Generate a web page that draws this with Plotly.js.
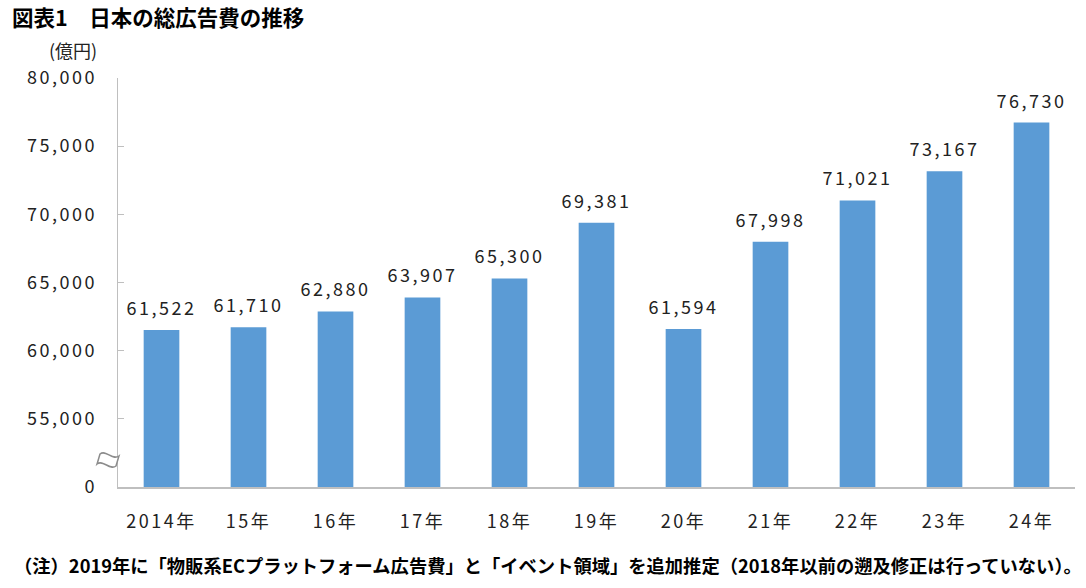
<!DOCTYPE html>
<html>
<head>
<meta charset="utf-8">
<script src="https://cdn.plot.ly/plotly-3.0.1.min.js"></script>
<style>
  html, body { margin: 0; padding: 0; background: #fff; }
  #chart { width: 1086px; height: 588px; }
  .xtick text, .ytick text { letter-spacing: 2.5px; }
</style>
</head>
<body>
<div id="chart"></div>
<script>
// 日本の総広告費の推移 - 棒グラフ

// データ
const years = ['2014年', '15年', '16年', '17年', '18年', '19年', '20年', '21年', '22年', '23年', '24年'];
const adSpend = [61522, 61710, 62880, 63907, 65300, 69381, 61594, 67998, 71021, 73167, 76730];

// 縦軸 (0 から 55,000 の間は省略)
const tickVals = [50000, 55000, 60000, 65000, 70000, 75000, 80000];
const tickText = ['0', '55,000', '60,000', '65,000', '70,000', '75,000', '80,000'];

const FONT = "'Noto Sans CJK JP', 'Noto Sans', sans-serif";
const TEXT_COLOR = '#222222';
const BAR_COLOR = '#5b9bd5';
const AXIS_COLOR = '#bfbfbf';

// プロット領域 (px)
const M = { t: 78, r: 11, b: 101, l: 118 };
const W = 1086, H = 588;
const PW = W - M.l - M.r, PH = H - M.t - M.b;
const px = x => ((x - M.l) / PW).toFixed(4);
const py = y => ((H - M.b - y) / PH).toFixed(4);

const trace = {
    x: years,
    y: adSpend,
    type: 'bar',
    marker: { color: BAR_COLOR },
    hoverinfo: 'x+y'
};

// 棒の上の数値ラベル
const valueLabels = years.map((yr, i) => ({
    x: yr,
    y: adSpend[i],
    xref: 'x',
    yref: 'y',
    text: adSpend[i].toLocaleString('en-US'),
    showarrow: false,
    yanchor: 'bottom',
    yshift: 8,
    font: { family: FONT, size: 18, color: TEXT_COLOR }
}));

const otherLabels = [
    {
        // 単位
        x: px(73), y: py(50), xref: 'paper', yref: 'paper',
        text: '(億円)', showarrow: false,
        xanchor: 'center', yanchor: 'middle',
        font: { family: FONT, size: 18, color: TEXT_COLOR }
    },
    {
        // 注記
        x: px(12), y: py(565), xref: 'paper', yref: 'paper',
        text: '（注）2019年に「物販系ECプラットフォーム広告費」と「イベント領域」を追加推定（2018年以前の遡及修正は行っていない）。',
        showarrow: false,
        xanchor: 'left', yanchor: 'middle',
        font: { family: FONT, size: 18.3, color: '#000', weight: 700 }
    }
];

// 軸の省略記号 (波形)
const breakMark = {
    type: 'path',
    xref: 'paper', yref: 'paper',
    path: `M ${px(100)} ${py(454)} C ${px(106)} ${py(449)}, ${px(112)} ${py(461)}, ${px(119)} ${py(456)} ` +
          `L ${px(116)} ${py(466)} C ${px(110)} ${py(471)}, ${px(103)} ${py(459)}, ${px(97)} ${py(464)} Z`,
    fillcolor: '#ffffff',
    line: { color: '#8c8c8c', width: 1.5 },
    layer: 'above'
};

const layout = {
    width: W,
    height: H,
    margin: M,
    paper_bgcolor: '#fff',
    plot_bgcolor: '#fff',
    font: { family: FONT, color: TEXT_COLOR },
    showlegend: false,
    bargap: 0.59,
    title: {
        text: '図表1　日本の総広告費の推移',
        xref: 'container', yref: 'container',
        x: 12 / W, xanchor: 'left',
        y: 1 - 18 / H, yanchor: 'middle',
        font: { family: FONT, size: 21.5, color: '#000', weight: 700 }
    },
    xaxis: {
        type: 'category',
        showline: true,
        linecolor: AXIS_COLOR,
        linewidth: 1.5,
        showgrid: false,
        zeroline: false,
        ticks: '',
        ticklabelstandoff: 18,
        tickfont: { family: FONT, size: 18, color: TEXT_COLOR }
    },
    yaxis: {
        range: [50000, 80000],
        tickvals: tickVals,
        ticktext: tickText,
        showline: true,
        linecolor: AXIS_COLOR,
        linewidth: 1.5,
        showgrid: false,
        zeroline: false,
        ticks: 'inside',
        ticklen: 6,
        tickcolor: AXIS_COLOR,
        ticklabelstandoff: 16,
        tickfont: { family: FONT, size: 18, color: TEXT_COLOR }
    },
    shapes: [breakMark],
    annotations: valueLabels.concat(otherLabels)
};

Plotly.newPlot('chart', [trace], layout, { displayModeBar: false, staticPlot: true }).then(gd => {
    // 数値ラベルだけ字間を広げる
    gd.querySelectorAll('.annotation').forEach(g => {
        const idx = Number(g.getAttribute('data-index'));
        if (idx < years.length) {
            g.querySelectorAll('text').forEach(t => { t.style.letterSpacing = '2.5px'; });
        }
    });
});
</script>
</body>
</html>
